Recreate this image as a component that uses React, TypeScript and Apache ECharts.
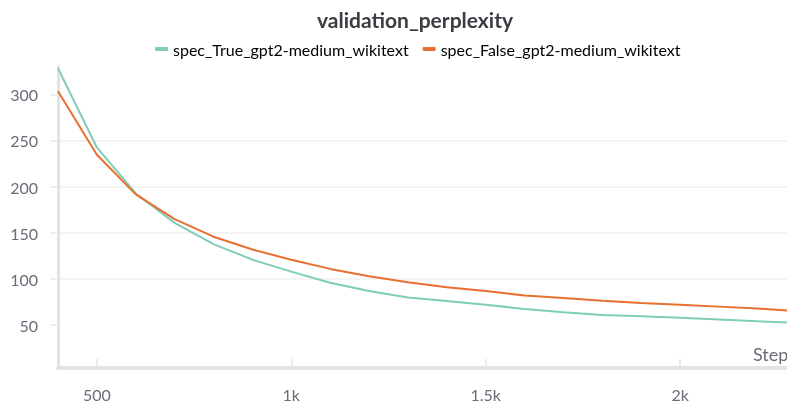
import React, { useEffect, useRef } from "react";
import * as echarts from "echarts";

const steps = [400, 500, 600, 700, 800, 900, 1000, 1100, 1200, 1300, 1400, 1500, 1600, 1700, 1800, 1900, 2000, 2100, 2200, 2300];
const specTrue = [329, 243, 193, 161, 138, 121, 108, 96, 87, 80, 76, 72, 67.5, 64, 61, 59.5, 58, 56, 54, 52.5];
const specFalse = [304, 235, 192, 165, 146, 132, 121, 111, 103, 96.5, 91, 87, 82, 79.5, 76.5, 74, 72, 70, 68, 65];
const xTicks = [500, 1000, 1500, 2000];
const yTicks = [50, 100, 150, 200, 250, 300];
const seriesNames = ["spec_True_gpt2-medium_wikitext", "spec_False_gpt2-medium_wikitext"];
const colors = ["#7fcdb8", "#e8702f"];

const FONT = "Lato, 'Noto Sans', sans-serif";

export default function App() {
  const ref = useRef<HTMLDivElement>(null);
  useEffect(() => {
    if (!ref.current) return;
    const chart = echarts.init(ref.current, undefined, { renderer: "svg" });
    const mk = (vals: number[]) => steps.map((s, i) => [s, vals[i]]);
    chart.setOption({
      animation: false,
      textStyle: { fontFamily: FONT },
      title: {
        text: "validation_perplexity",
        left: 312,
        top: 4,
        textStyle: { fontFamily: FONT, fontSize: 21, fontWeight: "bold", color: "#3b3b42" },
      },
      legend: {
        left: 150,
        top: 36,
        itemWidth: 13,
        itemHeight: 4,
        itemGap: 14,
        icon: "roundRect",
        textStyle: { fontFamily: FONT, fontSize: 16, color: "inherit" },
        data: seriesNames,
      },
      grid: { left: 58, right: 0, top: 66, bottom: 36, containLabel: false },
      xAxis: {
        type: "value",
        min: 400,
        max: 2275,
        axisLine: { show: true, lineStyle: { color: "#e3e3e6", width: 4 } },
        axisTick: { show: true, inside: true, length: 9, customValues: xTicks, lineStyle: { color: "#e3e3e6", width: 1.5 } },
        axisLabel: {
          customValues: xTicks,
          margin: 18,
          fontSize: 16,
          fontFamily: FONT,
          color: "#6b6b78",
          formatter: (v: number) => (v >= 1000 ? v / 1000 + "k" : String(v)),
        },
        splitLine: { show: false },
      },
      yAxis: {
        type: "value",
        min: 3.3,
        max: 331.5,
        axisLine: { show: true, lineStyle: { color: "#e3e3e6", width: 3 } },
        axisTick: { show: true, length: 8, customValues: yTicks, lineStyle: { color: "#ebebed", width: 1.5 } },
        axisLabel: { customValues: yTicks, margin: 20, fontSize: 16, fontFamily: FONT, color: "#6b6b78" },
        splitLine: { show: true, showMinLine: false, showMaxLine: false, lineStyle: { color: "#f1f1f2", width: 1.5 } },
      },
      graphic: [
        {
          type: "text",
          x: 753,
          y: 354,
          style: { text: "Step", fontFamily: FONT, fontSize: 18, fill: "#6b6b78", verticalAlign: "middle" },
        },
      ],
      series: [
        {
          name: seriesNames[0],
          type: "line",
          data: mk(specTrue),
          showSymbol: false,
          clip: true,
          lineStyle: { color: colors[0], width: 2 },
          itemStyle: { color: colors[0] },
        },
        {
          name: seriesNames[1],
          type: "line",
          data: mk(specFalse),
          showSymbol: false,
          clip: true,
          lineStyle: { color: colors[1], width: 2 },
          itemStyle: { color: colors[1] },
        },
      ],
    });
    return () => chart.dispose();
  }, []);
  return <div ref={ref} style={{ position: "fixed", left: 0, top: 0, width: 787, height: 404 }} />;
}
